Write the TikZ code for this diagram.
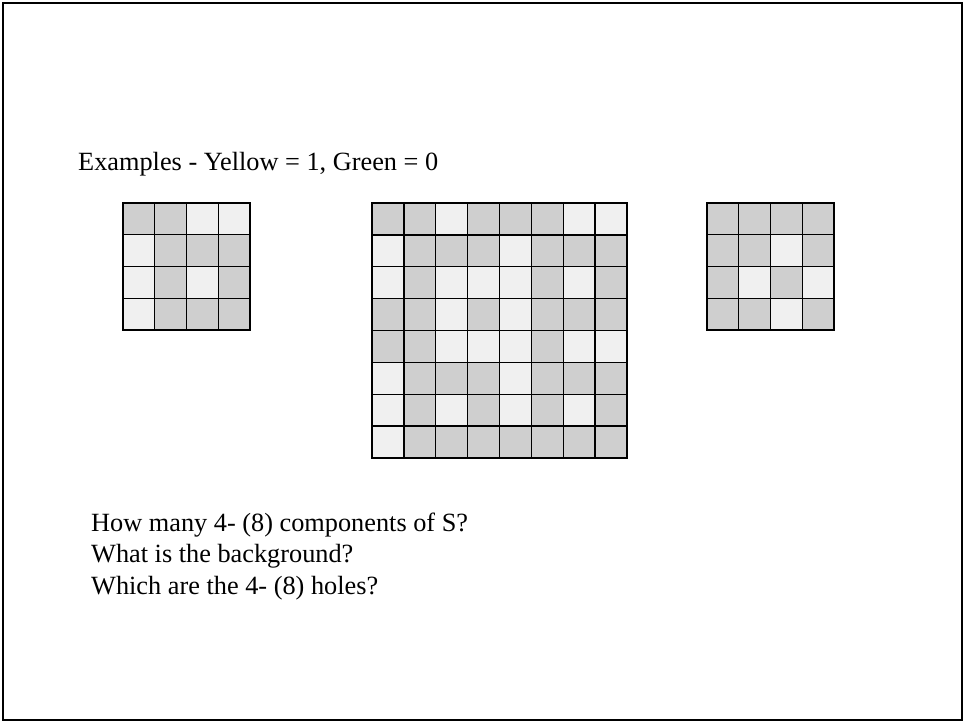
\documentclass[tikz,border=0pt]{standalone}
\usepackage{fontspec}
\setmainfont{Liberation Serif}
\definecolor{gcell}{RGB}{207,207,207}
\definecolor{lcell}{RGB}{240,240,240}
\tikzset{
  cellG/.style={fill=gcell,draw=black,line width=1.4pt},
  cellL/.style={fill=lcell,draw=black,line width=1.4pt},
  txtlabel/.style={anchor=base west,inner sep=0pt,font=\fontsize{26.3}{32}\selectfont}
}
\newcommand{\drawgrid}[5]{% x0, y0, cell, n, rows
  \foreach \row [count=\r from 0] in {#5}{%
    \foreach \c [count=\k from 0] in \row {%
      \ifnum\c=1
        \path[cellG] ({#1+\k*#3},{#2+\r*#3}) rectangle ++(#3,#3);
      \else
        \path[cellL] ({#1+\k*#3},{#2+\r*#3}) rectangle ++(#3,#3);
      \fi
    }%
  }%
}
\begin{document}
\begin{tikzpicture}[x=1pt,y=-1pt]
\useasboundingbox (0,0) rectangle (965,723);
\draw[line width=1.6pt] (3,3) rectangle (962,720);
\node[txtlabel] (title) at (78,170) {Examples - Yellow = 1, Green = 0};
% left grid
\drawgrid{123}{203}{31.75}{4}{{1,1,0,0},{0,1,1,1},{0,1,0,1},{0,1,1,1}}
% middle grid
\drawgrid{372}{203}{31.875}{8}{{1,1,0,1,1,1,0,0},{0,1,1,1,0,1,1,1},{0,1,0,0,0,1,0,1},{1,1,0,1,0,1,1,1},{1,1,0,0,0,1,0,0},{0,1,1,1,0,1,1,1},{0,1,0,1,0,1,0,1},{0,1,1,1,1,1,1,1}}
% right grid
\drawgrid{707}{203}{31.75}{4}{{1,1,1,1},{1,1,0,1},{1,0,1,0},{1,1,0,1}}
\node[txtlabel] (q1) at (91,531) {How many 4- (8) components of S?};
\node[txtlabel] (q2) at (91,562) {What is the background?};
\node[txtlabel] (q3) at (91,594) {Which are the 4- (8) holes?};
\end{tikzpicture}
\end{document}
